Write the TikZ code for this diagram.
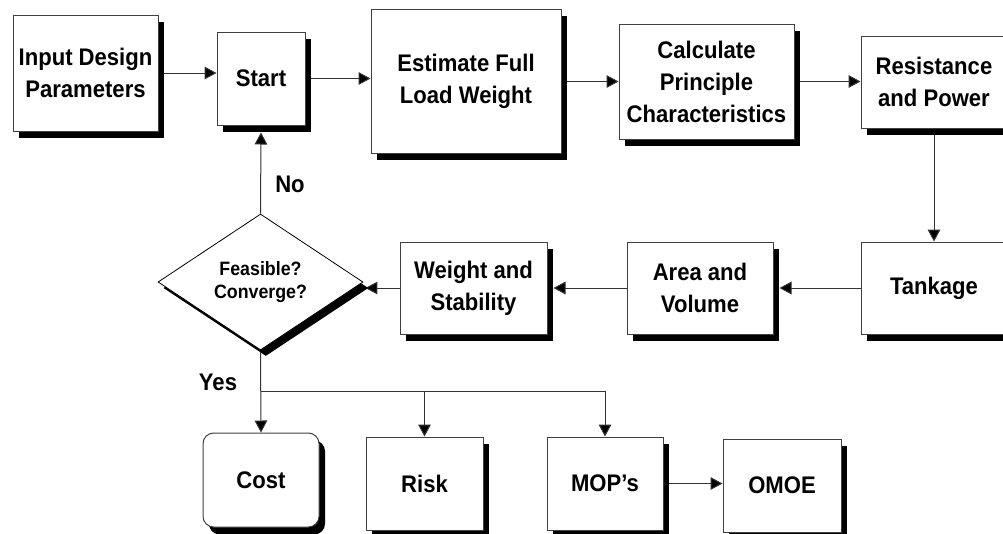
\documentclass[tikz,border=0pt]{standalone}
\usepackage{fontspec}
\setmainfont[FakeStretch=0.92]{Liberation Sans}
\usetikzlibrary{arrows.meta,shapes.geometric,shadows}
\pgfdeclarelayer{background}
\pgfsetlayers{background,main}
\tikzset{
  box/.style={draw=black!75, line width=0.75pt, fill=white, inner sep=0pt,
    align=center, font=\fontsize{18}{24}\selectfont\bfseries,
    general shadow={fill=black, shadow xshift=4.5pt, shadow yshift=-5.6pt}},
  roundbox/.style={box, rounded corners=8pt},
  decision/.style={diamond, draw=black, line width=0.6pt, fill=white, inner sep=0pt,
    align=center, font=\fontsize{14.5}{17.3}\selectfont\bfseries,
    minimum width=153.75pt, minimum height=102pt,
    general shadow={fill=black, shadow xshift=4pt, shadow yshift=-4.5pt}},
  flow/.style={draw=black!80, line width=0.75pt,
    -{Triangle[length=9pt,width=9.5pt,fill=black]}},
  link/.style={draw=black!80, line width=0.75pt},
  tag/.style={font=\fontsize{18}{20}\selectfont\bfseries}
}
\begin{document}
\begin{tikzpicture}[x=0.75pt,y=-0.75pt]
\useasboundingbox (0,0) rectangle (1003,533);
\clip (0,0) rectangle (1003,533);

% top row
\node[box, minimum width=108.75pt, minimum height=87pt] (in) at (85.5,73) {Input Design\\Parameters};
\node[box, minimum width=66pt, minimum height=69.75pt] (st) at (261,78.5) {Start};
\node[box, minimum width=142.5pt, minimum height=108pt] (est) at (466,81) {Estimate Full\\Load Weight};
\node[box, minimum width=131.25pt, minimum height=86.25pt] (calc) at (706.5,81.5) {Calculate\\Principle\\Characteristics};
\node[box, minimum width=109.5pt, minimum height=69pt] (res) at (934,82) {Resistance\\and Power};

% middle row
\node[box, minimum width=109.5pt, minimum height=69pt] (tank) at (934,288) {Tankage};
\node[box, minimum width=109.5pt, minimum height=69pt] (area) at (700,288) {Area and\\Volume};
\node[box, minimum width=110.25pt, minimum height=69pt] (wt) at (473.5,288) {Weight and\\Stability};
\node[decision] (dia) at (260.5,282) {Feasible?\\Converge?};

% bottom row
\node[roundbox, minimum width=87pt, minimum height=70.5pt] (cost) at (261,480) {Cost};
\node[box, minimum width=87.75pt, minimum height=69.75pt] (risk) at (424.5,483.5) {Risk};
\node[box, minimum width=87pt, minimum height=69.75pt] (mop) at (605,483.5) {MOP's};
\node[box, minimum width=88.5pt, minimum height=69.75pt] (omoe) at (782,485.5) {OMOE};

\coordinate (br) at (260.5,391);

\node[tag] (no) at (290,184) {No};
\node[tag] (yes) at (218,382) {Yes};

\begin{pgfonlayer}{background}
  \draw[flow] (in.east) -- (in.east -| st.west);
  \draw[flow] (st.east) -- (st.east -| est.west);
  \draw[flow] (est.east |- calc.west) -- (calc.west);
  \draw[flow] (calc.east) -- (calc.east -| res.west);
  \draw[flow] (res.south) -- (tank.north);
  \draw[flow] (tank.west) -- ([xshift=4.5pt]area.east);
  \draw[flow] (area.west) -- ([xshift=4.5pt]wt.east);
  \draw[flow] (wt.west) -- ([xshift=1.5pt]wt.west -| dia.east);
  \draw[flow] (dia.north) -- ([yshift=-5.25pt]st.south);
  \draw[flow] (dia.south) -- (cost.north);
  \draw[link] (br) -- (br -| mop.north);
  \draw[flow] (br -| risk.north) -- (risk.north);
  \draw[flow] (br -| mop.north) -- (mop.north);
  \draw[flow] (mop.east) -- (mop.east -| omoe.west);
\end{pgfonlayer}
\end{tikzpicture}
\end{document}
